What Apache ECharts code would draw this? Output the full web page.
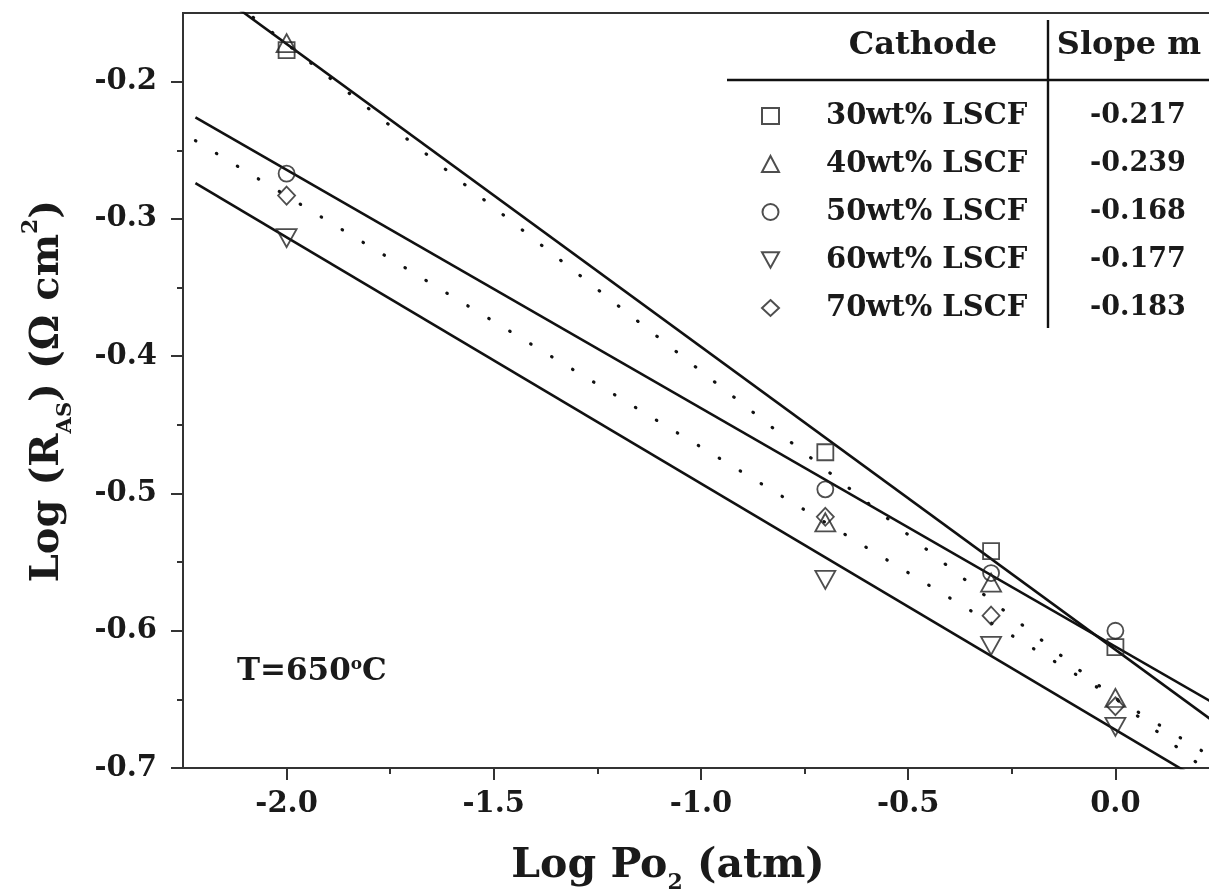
<!DOCTYPE html>
<html><head><meta charset="utf-8">
<script src="https://cdn.jsdelivr.net/npm/echarts@6/dist/echarts.min.js"></script>
<style>html,body{margin:0;padding:0;background:#fff;overflow:hidden}#c{width:1219px;height:894px}</style>
</head><body><div id="c"></div>
<script>
// ---- data ----
const cathodes = ['30wt% LSCF', '40wt% LSCF', '50wt% LSCF', '60wt% LSCF', '70wt% LSCF'];
const slopes = ['-0.217', '-0.239', '-0.168', '-0.177', '-0.183'];
const logPO2 = [-2.0, -0.7, -0.3, 0.0];
const ras30 = [-0.177, -0.470, -0.542, -0.612];
const ras40 = [-0.172, -0.521, -0.565, -0.649];
const ras50 = [-0.267, -0.497, -0.558, -0.600];
const ras60 = [-0.314, -0.563, -0.611, -0.670];
const ras70 = [-0.283, -0.517, -0.589, -0.655];
// fitted lines, end points
const fitX = [-2.22, 0.25];
const fit30 = [-0.124, -0.669];
const fit40 = [-0.120, -0.709];
const fit50 = [-0.226, -0.655];
const fit60 = [-0.274, -0.717];
const fit70 = [-0.243, -0.695];
const fitDotted = [false, true, false, false, true];
const xMajorTicks = [-2.0, -1.5, -1.0, -0.5, 0.0];
const xMinorTicks = [-1.75, -1.25, -0.75, -0.25];
const yMajorTicks = [-0.7, -0.6, -0.5, -0.4, -0.3, -0.2];
const yMinorTicks = [-0.65, -0.55, -0.45, -0.35, -0.25];

const rasAll = [ras30, ras40, ras50, ras60, ras70];
const fitAll = [fit30, fit40, fit50, fit60, fit70];
const symbols = ['rect', 'triangle', 'circle', 'triangle', 'diamond'];
const symbolSizes = [[16, 16], [20, 18], [16, 16], [20, 18], [17, 18]];
const symbolRotates = [0, 0, 0, 180, 0];
const legendIcons = ['rect', 'triangle', 'circle', 'path://M0,0 L20,0 L10,18 Z', 'diamond'];

const FONT = '"DejaVu Serif", "Liberation Serif", serif';
const INK = '#1a1a1a';

const series = [];
fitAll.forEach((f, i) => {
  series.push({
    name: 'fit ' + cathodes[i],
    type: 'line',
    data: fitX.map((x, k) => [x, f[k]]),
    showSymbol: false, symbol: 'none', silent: true, clip: true, z: 2,
    lineStyle: fitDotted[i]
      ? { color: '#111', width: 3.2, type: [0.5, 24], cap: 'round' }
      : { color: '#111', width: 2.6 }
  });
});
rasAll.forEach((r, i) => {
  series.push({
    name: cathodes[i],
    type: 'scatter',
    data: logPO2.map((x, k) => [x, r[k]]),
    symbol: symbols[i], symbolSize: symbolSizes[i], symbolRotate: symbolRotates[i],
    itemStyle: { color: 'rgba(255,255,255,0)', borderColor: '#222', borderWidth: 1.8 },
    z: 3
  });
});

const tickLabel = { fontFamily: FONT, fontWeight: 'bold', fontSize: 29, color: INK };
const axisLineStyle = { show: true, onZero: false, lineStyle: { color: '#333', width: 2 } };

const option = {
  animation: false,
  backgroundColor: '#fff',
  grid: { left: 183, right: 0, top: 13, bottom: 126, show: true, borderColor: '#333', borderWidth: 2 },
  xAxis: [{
    type: 'value', min: -2.25, max: 0.25,
    axisLine: axisLineStyle,
    axisTick: { show: true, customValues: xMajorTicks, length: 12, lineStyle: { color: '#333', width: 2 } },
    axisLabel: Object.assign({ customValues: xMajorTicks, margin: 22, formatter: v => v.toFixed(1) }, tickLabel),
    splitLine: { show: false }
  }, {
    type: 'value', min: -2.25, max: 0.25, position: 'bottom',
    axisLine: { show: false, onZero: false },
    axisTick: { show: true, customValues: xMinorTicks, length: 6, lineStyle: { color: '#333', width: 2 } },
    axisLabel: { show: false }, splitLine: { show: false }
  }],
  yAxis: [{
    type: 'value', min: -0.7, max: -0.15,
    axisLine: axisLineStyle,
    axisTick: { show: true, customValues: yMajorTicks, length: 12, lineStyle: { color: '#333', width: 2 } },
    axisLabel: Object.assign({ customValues: yMajorTicks, margin: 26, formatter: v => v.toFixed(1) }, tickLabel),
    splitLine: { show: false }
  }, {
    type: 'value', min: -0.7, max: -0.15, position: 'left',
    axisLine: { show: false, onZero: false },
    axisTick: { show: true, customValues: yMinorTicks, length: 6, lineStyle: { color: '#333', width: 2 } },
    axisLabel: { show: false }, splitLine: { show: false }
  }],
  legend: {
    data: cathodes.map((n, i) => ({ name: n, icon: legendIcons[i] })),
    orient: 'vertical', left: 756, top: 96,
    itemWidth: 17, itemHeight: 16, itemGap: 18, selectedMode: false,
    formatter: name => '{a|' + name + '}{b|' + slopes[cathodes.indexOf(name)] + '}',
    textStyle: {
      fontFamily: FONT, fontWeight: 'bold', fontSize: 28, color: INK, lineHeight: 30,
      rich: {
        a: { fontFamily: FONT, fontWeight: 'bold', fontSize: 29, color: INK, width: 214, padding: [0, 0, 0, 42], lineHeight: 30 },
        b: { fontFamily: FONT, fontWeight: 'bold', fontSize: 27, color: INK, width: 196, align: 'center', lineHeight: 30 }
      }
    }
  },
  graphic: [
    { type: 'line', shape: { x1: 727, y1: 80, x2: 1219, y2: 80 }, style: { stroke: '#111', lineWidth: 2.6 }, z: 10 },
    { type: 'line', shape: { x1: 1048, y1: 20, x2: 1048, y2: 328 }, style: { stroke: '#111', lineWidth: 2.4 }, z: 10 },
    { type: 'text', x: 923, y: 46, z: 10, style: { text: 'Cathode', font: 'bold 32px ' + FONT, fill: INK, align: 'center', verticalAlign: 'middle', textAlign: 'center', textVerticalAlign: 'middle' } },
    { type: 'text', x: 1129, y: 46, z: 10, style: { text: 'Slope m', font: 'bold 32px ' + FONT, fill: INK, align: 'center', verticalAlign: 'middle', textAlign: 'center', textVerticalAlign: 'middle' } },
    { type: 'text', x: 237, y: 672, z: 10, style: {
        text: 'T=650{sup|o}C', font: 'bold 31px ' + FONT, fill: INK, align: 'left', verticalAlign: 'middle', textAlign: 'left', textVerticalAlign: 'middle',
        rich: { sup: { font: 'bold 17px ' + FONT, fill: INK, verticalAlign: 'top', lineHeight: 17 } } } },
    { type: 'text', x: 668, y: 866, z: 10, style: {
        text: 'Log Po{sub|2} (atm)', font: 'bold 41px ' + FONT, fill: INK, lineHeight: 56, align: 'center', verticalAlign: 'middle', textAlign: 'center', textVerticalAlign: 'middle',
        rich: { sub: { font: 'bold 22px ' + FONT, fill: INK, verticalAlign: 'bottom', lineHeight: 22 } } } },
    { type: 'text', x: 48, y: 391, rotation: Math.PI / 2, z: 10, style: {
        text: 'Log (R{sub|AS}) (Ω cm{sup|2})', font: 'bold 40px ' + FONT, fill: INK, lineHeight: 56, align: 'center', verticalAlign: 'middle', textAlign: 'center', textVerticalAlign: 'middle',
        rich: {
          sub: { font: 'bold 21px ' + FONT, fill: INK, verticalAlign: 'bottom', lineHeight: 21 },
          sup: { font: 'bold 22px ' + FONT, fill: INK, verticalAlign: 'top', lineHeight: 22 }
        } } }
  ],
  series: series
};
echarts.init(document.getElementById('c'), null, { renderer: 'canvas' }).setOption(option);
</script>
</body></html>
